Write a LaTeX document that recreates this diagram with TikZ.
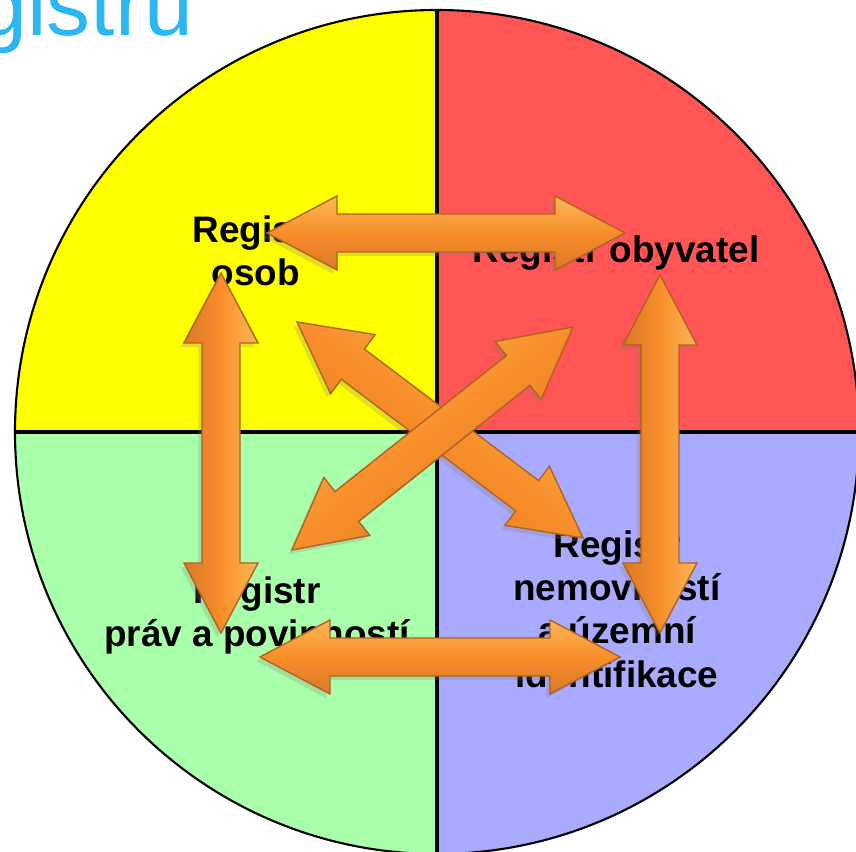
\documentclass[tikz,border=0pt]{standalone}
\usepackage{fontspec}
\setmainfont{Liberation Sans}
\usetikzlibrary{calc,shadows}
\definecolor{qyellow}{HTML}{FFFF00}
\definecolor{qred}{HTML}{FF5555}
\definecolor{qgreen}{HTML}{AAFFAA}
\definecolor{qblue}{HTML}{AAAAFF}
\definecolor{titleblue}{HTML}{2DB7F1}
\definecolor{arrmid}{HTML}{F78E2A}
\definecolor{arrlight}{HTML}{FDB858}
\definecolor{arrdark}{HTML}{DA7826}
\definecolor{arrline}{HTML}{B0621E}
\newcommand\arrhl{0.70cm}
\newcommand\arrhw{0.37cm}
\newcommand\arrsw{0.19cm}
\newcommand\dblarrow[3]{%
  \path[arr, shading angle=#3]
    (#1) -- ($(#1)!\arrhl!(#2)!\arrhw!90:(#2)$) -- ($(#1)!\arrhl!(#2)!\arrsw!90:(#2)$)
    -- ($(#2)!\arrhl!(#1)!\arrsw!-90:(#1)$) -- ($(#2)!\arrhl!(#1)!\arrhw!-90:(#1)$)
    -- (#2) -- ($(#2)!\arrhl!(#1)!\arrhw!90:(#1)$) -- ($(#2)!\arrhl!(#1)!\arrsw!90:(#1)$)
    -- ($(#1)!\arrhl!(#2)!\arrsw!-90:(#2)$) -- ($(#1)!\arrhl!(#2)!\arrhw!-90:(#2)$) -- cycle;}

\begin{document}
\begin{tikzpicture}[
    reg/.style={font=\fontsize{10.5}{12.3}\selectfont\bfseries, align=center, inner sep=0pt},
    arr/.style={draw=arrline, line width=0.4pt, top color=arrlight, bottom color=arrdark, middle color=arrmid,
      drop shadow={shadow xshift=-1pt, shadow yshift=-1.2pt, opacity=0.25}}]
  \clip (0,0) rectangle (8.56,8.52);
  \coordinate (c) at (4.37,4.20);
  \fill[qyellow] (c) -- ++(0,4.22) arc[start angle=90, end angle=180, radius=4.22] -- cycle;
  \fill[qred] (c) -- ++(4.22,0) arc[start angle=0, end angle=90, radius=4.22] -- cycle;
  \fill[qgreen] (c) -- ++(-4.22,0) arc[start angle=180, end angle=270, radius=4.22] -- cycle;
  \fill[qblue] (c) -- ++(0,-4.22) arc[start angle=270, end angle=360, radius=4.22] -- cycle;
  \draw[line width=0.6pt] (c) circle[radius=4.22];
  \draw[line width=1pt] ($(c)+(0,4.22)$) -- ($(c)-(0,4.22)$);
  \draw[line width=1pt] ($(c)+(4.22,0)$) -- ($(c)-(4.22,0)$);
  \node[font=\fontsize{25}{30}\selectfont, text=titleblue, anchor=base east, inner sep=0pt] (title) at (1.94,8.16) {gistru};

  \node[reg, anchor=north] (osob) at (2.56,6.37) {Registr\\osob};
  \node[reg, anchor=base] (obyv) at (6.16,5.89) {Registr obyvatel};
  \node[reg, anchor=north] (prav) at (2.57,2.76) {Registr\\práv a povinností};
  \node[reg, anchor=north] (nemov) at (6.17,3.22) {Registr\\nemovitostí\\a územní\\identifikace};

  \coordinate (osob-e) at (2.67,6.19);
  \coordinate (obyv-w) at (6.25,6.19);
  \coordinate (osob-s) at (2.21,5.79);
  \coordinate (prav-n) at (2.21,2.19);
  \coordinate (obyv-s) at (6.60,5.77);
  \coordinate (nemov-n) at (6.60,2.19);
  \coordinate (prav-e) at (2.60,1.95);
  \coordinate (nemov-w) at (6.20,1.95);
  \coordinate (osob-se) at (2.97,5.30);
  \coordinate (nemov-nw) at (5.83,3.14);
  \coordinate (prav-ne) at (2.92,3.02);
  \coordinate (obyv-sw) at (5.73,5.25);

  \dblarrow{osob-e}{obyv-w}{0}
  \dblarrow{osob-s}{prav-n}{-90}
  \dblarrow{obyv-s}{nemov-n}{-90}
  \dblarrow{prav-e}{nemov-w}{0}
  \dblarrow{osob-se}{nemov-nw}{-37}
  \dblarrow{prav-ne}{obyv-sw}{38}
\end{tikzpicture}
\end{document}
